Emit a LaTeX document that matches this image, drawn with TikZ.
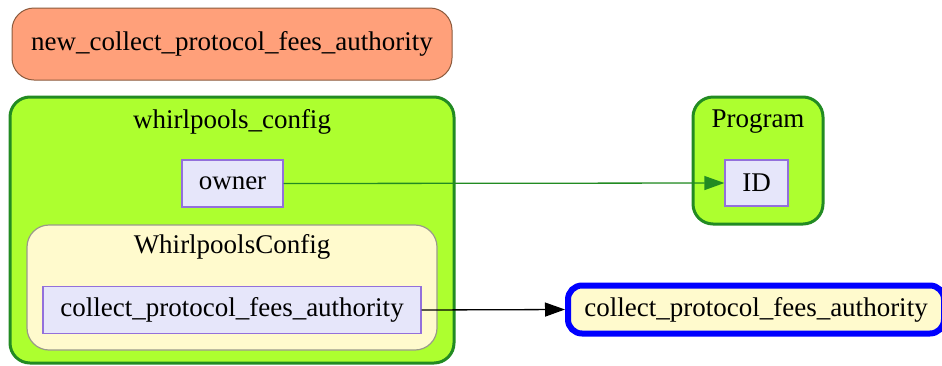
\documentclass[tikz,border=0pt]{standalone}
\usepackage{fontspec}
\setmainfont{Liberation Serif}
\usetikzlibrary{arrows.meta}
\definecolor{salmonfill}{HTML}{FFA07A}
\definecolor{salmonline}{HTML}{8B5A3C}
\definecolor{clustergreen}{HTML}{ADFF2F}
\definecolor{clusterline}{HTML}{228B22}
\definecolor{fieldfill}{HTML}{E6E6FA}
\definecolor{fieldline}{HTML}{9370DB}
\definecolor{typefill}{HTML}{FFFACD}
\definecolor{typeline}{HTML}{9A9A8A}
\tikzset{
  lbl/.style={font=\fontsize{27}{32}\selectfont, inner sep=0pt},
  account/.style={draw=clusterline, line width=3pt, fill=clustergreen, rounded corners=20pt},
  typebox/.style={draw=typeline, line width=1.2pt, fill=typefill, rounded corners=22pt},
  field/.style={draw=fieldline, line width=1.3pt, fill=fieldfill, inner sep=0pt, lbl},
  link/.style={line width=1.3pt, -{Triangle[length=20pt,width=14pt]}},
}
\begin{document}
\begin{tikzpicture}[x=1pt,y=-1pt]
  \useasboundingbox (0,0) rectangle (942,365);
  % signer argument
  \node[draw=salmonline, line width=1pt, fill=salmonfill, rounded corners=22pt,
        minimum width=440pt, minimum height=72pt, lbl] (newauth) at (232,44)
        {new\_collect\_protocol\_fees\_authority};
  % whirlpools_config account
  \draw[account] (10,97) rectangle (454,363);
  \node[lbl] (cfgtitle) at (232,122) {whirlpools\_config};
  \node[field, minimum width=101pt, minimum height=47pt] (owner) at (232.5,183.5) {owner};
  \draw[typebox] (27,225) rectangle (437,350);
  \node[lbl] (typetitle) at (232,247) {WhirlpoolsConfig};
  \node[field, minimum width=378pt, minimum height=47pt] (cpfa) at (232,310) {collect\_protocol\_fees\_authority};
  % program account
  \draw[account] (693,97) rectangle (823,224);
  \node[lbl] (progtitle) at (758,122) {Program};
  \node[field, minimum width=63pt, minimum height=46pt] (pid) at (756.5,183) {ID};
  % target authority
  \node[draw=blue, line width=6pt, fill=typefill, rounded corners=14pt,
        minimum width=376pt, minimum height=48pt, lbl] (target) at (756,309.5)
        {collect\_protocol\_fees\_authority};
  % connectors
  \draw[link, draw=clusterline, fill=clusterline] (owner.east) -- (pid.west);
  \draw[link, black] (cpfa.east) -- (target.west);
\end{tikzpicture}
\end{document}
